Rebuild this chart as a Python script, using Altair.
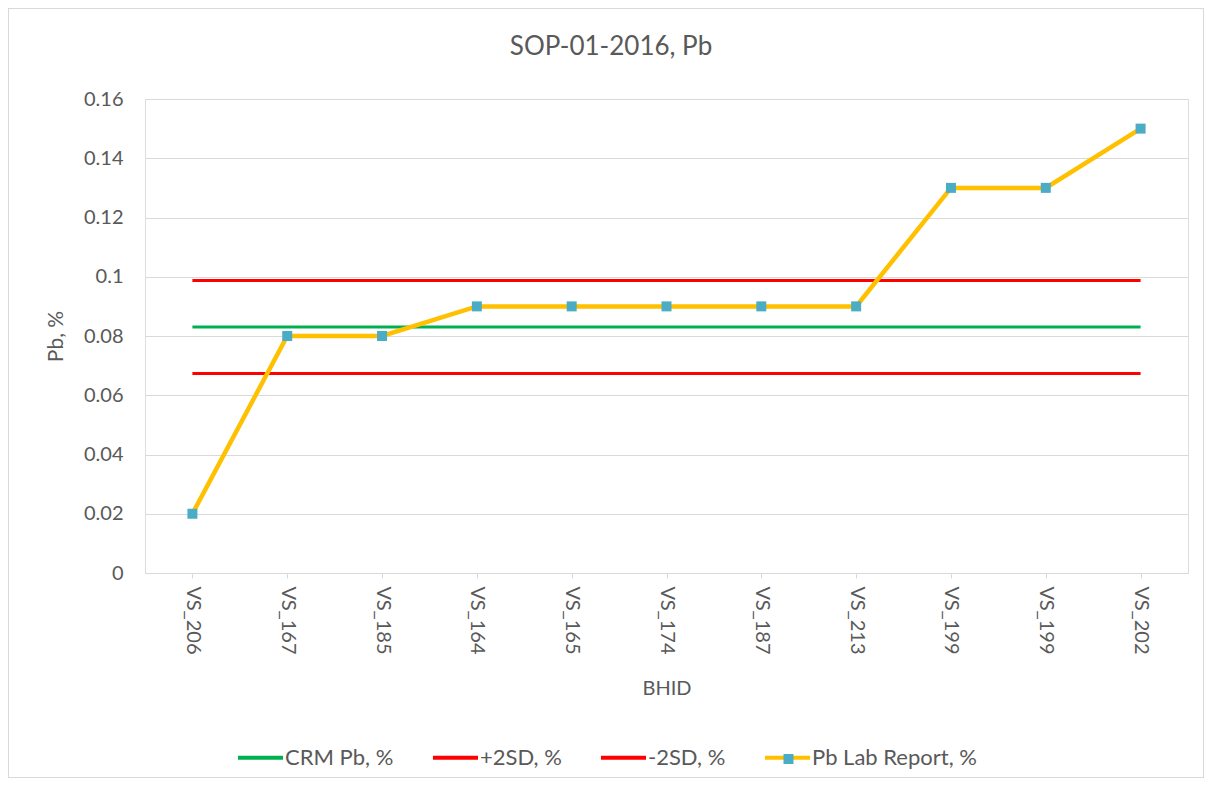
import altair as alt
import pandas as pd

bhid = ["VS_206", "VS_167", "VS_185", "VS_164", "VS_165", "VS_174",
        "VS_187", "VS_213", "VS_199", "VS_199", "VS_202"]
pb_lab = [0.02, 0.08, 0.08, 0.09, 0.09, 0.09, 0.09, 0.09, 0.13, 0.13, 0.15]

ref_names = ["CRM Pb, %", "+2SD, %", "-2SD, %"]
ref_values = [0.083, 0.0987, 0.0673]
lab_name = "Pb Lab Report, %"
chart_title = "SOP-01-2016, Pb"

series_order = ref_names + [lab_name]
series_colors = ["#00B050", "#FF0000", "#FF0000", "#FFC000"]
marker_color = "#4BACC6"

FONT = "Lato"
TXT = "#595959"
GRID = "#d9d9d9"

lab_df = pd.DataFrame({"idx": list(range(len(bhid))), "bhid": bhid,
                       "value": pb_lab, "series": lab_name, "marker": lab_name})
ref_df = pd.DataFrame({"series": ref_names, "value": ref_values,
                       "x0": 0, "x1": len(bhid) - 1})

label_expr = "[" + ",".join(f"'{b}'" for b in bhid) + "][datum.value]"

x_scale = alt.Scale(domain=[-0.5, len(bhid) - 0.5], nice=False, zero=False)
y_scale = alt.Scale(domain=[0, 0.16], nice=False)

x_axis = alt.Axis(values=list(range(len(bhid))), labelExpr=label_expr, labelAngle=90,
                  grid=False, domain=True, domainColor=GRID, ticks=True, tickColor=GRID,
                  tickSize=5, labelPadding=8, labelFontSize=20, labelFont=FONT,
                  labelColor=TXT, labelOverlap=False, labelFlush=False, title="BHID",
                  titleFont=FONT, titleFontSize=20, titleFontWeight="normal",
                  titleColor=TXT, titlePadding=24)
y_axis = alt.Axis(values=[0, 0.02, 0.04, 0.06, 0.08, 0.1, 0.12, 0.14, 0.16], format="~f",
                  grid=True, gridColor=GRID, gridWidth=1, domain=False, ticks=False,
                  labelPadding=22, labelFontSize=20, labelFont=FONT, labelColor=TXT,
                  title="Pb, %", titleFont=FONT, titleFontSize=21,
                  titleFontWeight="normal", titleColor=TXT, titlePadding=17)

color_scale = alt.Scale(domain=series_order, range=series_colors)
color_legend = alt.Legend(orient="none", legendX=91, legendY=634, direction="horizontal",
                          columns=4, symbolType="stroke", symbolSize=2025,
                          symbolStrokeWidth=4, labelFontSize=22, labelFont=FONT,
                          labelColor=TXT, columnPadding=31, labelOffset=0, padding=0,
                          labelLimit=400, title=None)

rules = alt.Chart(ref_df).mark_rule(strokeWidth=3).encode(
    x=alt.X("x0:Q", scale=x_scale, axis=x_axis),
    x2="x1:Q",
    y=alt.Y("value:Q", scale=y_scale, axis=y_axis),
    color=alt.Color("series:N", scale=color_scale, legend=color_legend),
)

line = alt.Chart(lab_df).mark_line(strokeWidth=4.5).encode(
    x=alt.X("idx:Q", scale=x_scale, axis=x_axis),
    y=alt.Y("value:Q", scale=y_scale, axis=y_axis),
    color=alt.Color("series:N", scale=color_scale, legend=color_legend),
)

points = alt.Chart(lab_df).mark_point(shape="square", filled=True, size=100, opacity=1).encode(
    x=alt.X("idx:Q", scale=x_scale, axis=x_axis),
    y=alt.Y("value:Q", scale=y_scale, axis=y_axis),
    fill=alt.Fill("marker:N", scale=alt.Scale(domain=[lab_name], range=[marker_color]),
                  legend=alt.Legend(orient="none", legendX=638.5, legendY=655,
                                    symbolType="square", symbolSize=100,
                                    symbolStrokeWidth=0, labelExpr="''", padding=0,
                                    title=None, symbolOpacity=1)),
)

frame = alt.Chart(lab_df).mark_rect(fill=None, stroke=GRID, strokeWidth=1).encode(
    x=alt.value(-136.5), x2=alt.value(1058.5), y=alt.value(-90.5), y2=alt.value(678.5)
)

title_text = alt.Chart(lab_df.head(1)).mark_text(
    font=FONT, fontSize=26, color=TXT, align="center", baseline="middle"
).encode(x=alt.value(466), y=alt.value(-52), text=alt.value(chart_title))

chart = alt.layer(frame, rules, line, points, title_text).properties(
    width=1043, height=474,
    autosize=alt.AutoSizeParams(type="none"),
    padding={"left": 137, "top": 91, "right": 16, "bottom": 205},
).configure_view(stroke=None).configure(background="white")

chart.save("out.html", embed_options={"renderer": "svg", "actions": False})
